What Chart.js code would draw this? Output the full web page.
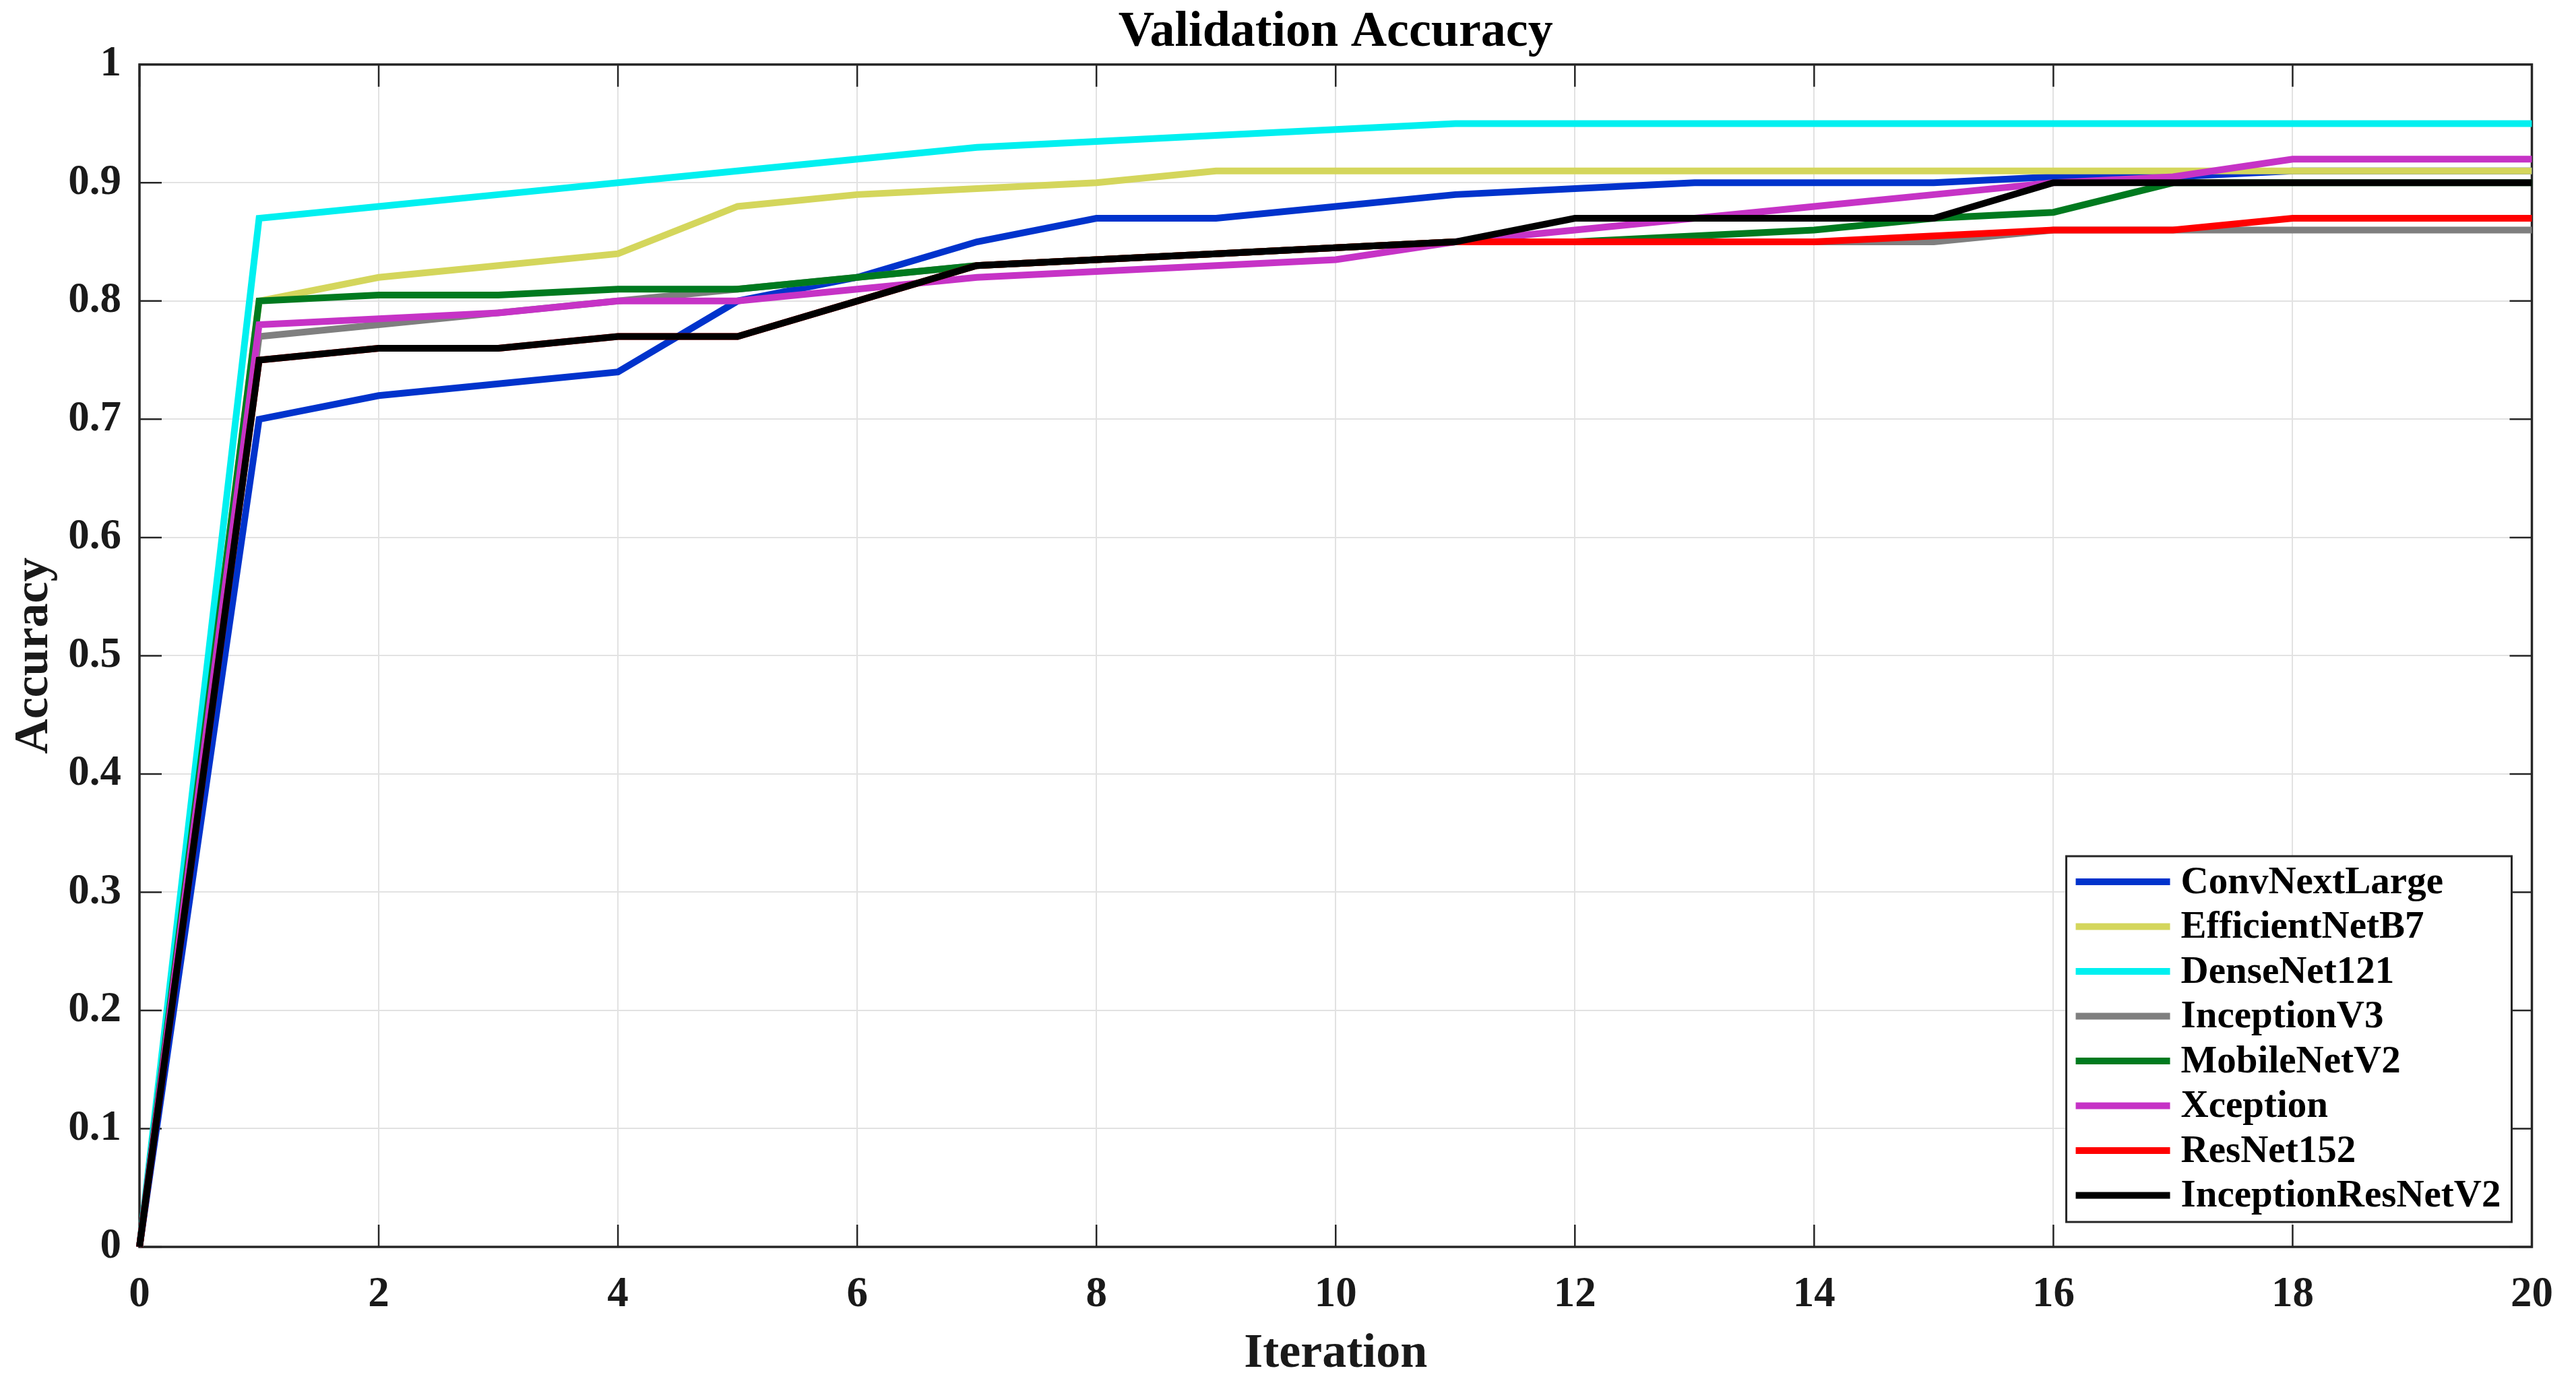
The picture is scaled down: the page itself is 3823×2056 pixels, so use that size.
<!DOCTYPE html>
<html>
<head>
<meta charset="utf-8">
<title>Validation Accuracy</title>
<script src="https://cdn.jsdelivr.net/npm/chart.js@4.4.1/dist/chart.umd.min.js"></script>
<style>
    html, body { margin: 0; padding: 0; background: #ffffff; }
    #chart { display: block; }
</style>
</head>
<body>
<canvas id="chart" width="3823" height="2056"></canvas>
<script>
// iterations on the x axis
const iterations = [0, 1, 2, 3, 4, 5, 6, 7, 8, 9, 10, 11, 12, 13, 14, 15, 16, 17, 18, 19, 20];

const modelNames = ['ConvNextLarge', 'EfficientNetB7', 'DenseNet121', 'InceptionV3',
                    'MobileNetV2', 'Xception', 'ResNet152', 'InceptionResNetV2'];

// validation accuracy per model
const convNextLarge     = [0, 0.70, 0.72, 0.73, 0.74, 0.80, 0.82, 0.85, 0.87, 0.87, 0.88, 0.89, 0.895, 0.90, 0.90, 0.90, 0.905, 0.905, 0.91, 0.91, 0.91];
const efficientNetB7    = [0, 0.80, 0.82, 0.83, 0.84, 0.88, 0.89, 0.895, 0.90, 0.91, 0.91, 0.91, 0.91, 0.91, 0.91, 0.91, 0.91, 0.91, 0.91, 0.91, 0.91];
const denseNet121       = [0, 0.87, 0.88, 0.89, 0.90, 0.91, 0.92, 0.93, 0.935, 0.94, 0.945, 0.95, 0.95, 0.95, 0.95, 0.95, 0.95, 0.95, 0.95, 0.95, 0.95];
const inceptionV3       = [0, 0.77, 0.78, 0.79, 0.80, 0.81, 0.82, 0.83, 0.835, 0.84, 0.845, 0.85, 0.85, 0.85, 0.85, 0.85, 0.86, 0.86, 0.86, 0.86, 0.86];
const mobileNetV2       = [0, 0.80, 0.805, 0.805, 0.81, 0.81, 0.82, 0.83, 0.835, 0.84, 0.845, 0.85, 0.85, 0.855, 0.86, 0.87, 0.875, 0.90, 0.90, 0.90, 0.90];
const xception          = [0, 0.78, 0.785, 0.79, 0.80, 0.80, 0.81, 0.82, 0.825, 0.83, 0.835, 0.85, 0.86, 0.87, 0.88, 0.89, 0.90, 0.905, 0.92, 0.92, 0.92];
const resNet152         = [0, 0.75, 0.76, 0.76, 0.77, 0.77, 0.80, 0.83, 0.835, 0.84, 0.845, 0.85, 0.85, 0.85, 0.85, 0.855, 0.86, 0.86, 0.87, 0.87, 0.87];
const inceptionResNetV2 = [0, 0.75, 0.76, 0.76, 0.77, 0.77, 0.80, 0.83, 0.835, 0.84, 0.845, 0.85, 0.87, 0.87, 0.87, 0.87, 0.90, 0.90, 0.90, 0.90, 0.90];

const seriesValues = [convNextLarge, efficientNetB7, denseNet121, inceptionV3,
                      mobileNetV2, xception, resNet152, inceptionResNetV2];
const seriesColors = ['#0033cc', '#d4d65c', '#00f0f0', '#7f7f7f',
                      '#007a1f', '#c633c6', '#ff0000', '#000000'];

const xTicks = [0, 2, 4, 6, 8, 10, 12, 14, 16, 18, 20];
const yTicks = [0, 0.1, 0.2, 0.3, 0.4, 0.5, 0.6, 0.7, 0.8, 0.9, 1];

const FONT = '"Liberation Serif", "Times New Roman", serif';
const TEXT_COLOR = '#1a1a1a';
const TICK_LEN = 33;

// MATLAB style box with inward ticks on all four sides
const matlabAxes = {
    id: 'matlabAxes',
    beforeDatasetsDraw(chart) {
        const { ctx, chartArea: a, scales: { x, y } } = chart;
        ctx.save();
        ctx.strokeStyle = '#262626';
        ctx.lineWidth = 2.5;
        ctx.beginPath();
        x.ticks.forEach(t => {
            const px = x.getPixelForValue(t.value);
            ctx.moveTo(px, a.bottom); ctx.lineTo(px, a.bottom - TICK_LEN);
            ctx.moveTo(px, a.top); ctx.lineTo(px, a.top + TICK_LEN);
        });
        y.ticks.forEach(t => {
            const py = y.getPixelForValue(t.value);
            ctx.moveTo(a.left, py); ctx.lineTo(a.left + TICK_LEN, py);
            ctx.moveTo(a.right, py); ctx.lineTo(a.right - TICK_LEN, py);
        });
        ctx.stroke();
        ctx.lineWidth = 3.5;
        ctx.strokeRect(a.left, a.top, a.right - a.left, a.bottom - a.top);
        ctx.restore();
    }
};

// boxed legend in the lower right corner of the plot
const boxLegend = {
    id: 'boxLegend',
    afterDraw(chart) {
        const { ctx, chartArea: a } = chart;
        const sets = chart.data.datasets;
        const rowH = 66.5;
        ctx.save();
        ctx.font = `bold 57px ${FONT}`;
        const textW = Math.max(...sets.map(d => ctx.measureText(d.label).width));
        const w = 170 + textW + 16;
        const h = sets.length * rowH + 11;
        const right = a.right - 30;
        const bottom = a.bottom - 37;
        const left = right - w;
        const top = bottom - h;

        ctx.fillStyle = '#ffffff';
        ctx.fillRect(left, top, w, h);
        ctx.strokeStyle = '#262626';
        ctx.lineWidth = 3;
        ctx.strokeRect(left, top, w, h);

        ctx.textAlign = 'left';
        ctx.textBaseline = 'middle';
        sets.forEach((d, i) => {
            const cy = top + 38 + i * rowH;
            ctx.strokeStyle = d.borderColor;
            ctx.lineWidth = 10;
            ctx.beginPath();
            ctx.moveTo(left + 14, cy);
            ctx.lineTo(left + 154, cy);
            ctx.stroke();
            ctx.fillStyle = '#000000';
            ctx.fillText(d.label, left + 170, cy + 2);
        });
        ctx.restore();
    }
};

// later series are drawn on top, as in the original figure
const datasets = modelNames.map((name, i) => ({
    label: name,
    data: iterations.map((it, k) => ({ x: it, y: seriesValues[i][k] })),
    borderColor: seriesColors[i],
    backgroundColor: seriesColors[i],
    borderWidth: 10,
    pointRadius: 0,
    tension: 0,
    clip: false,
    order: modelNames.length - i
}));

const ctx = document.getElementById('chart').getContext('2d');
new Chart(ctx, {
    type: 'line',
    data: { datasets: datasets },
    options: {
        responsive: false,
        devicePixelRatio: 1,
        animation: false,
        layout: { padding: { left: 0, right: 46, top: 0, bottom: 0 } },
        plugins: {
            legend: { display: false },
            tooltip: { enabled: false },
            title: {
                display: true,
                fullSize: false,
                text: 'Validation Accuracy',
                color: '#000000',
                font: { family: FONT, size: 74, weight: 'bold' },
                padding: { top: 4, bottom: 3 }
            }
        },
        scales: {
            x: {
                type: 'linear',
                min: 0,
                max: 20,
                afterFit(scale) { scale.height = 205; },
                afterBuildTicks(scale) { scale.ticks = xTicks.map(v => ({ value: v })); },
                grid: { color: '#e2e2e2', lineWidth: 2, drawTicks: false },
                border: { display: false },
                ticks: {
                    color: TEXT_COLOR,
                    font: { family: FONT, size: 63, weight: 'bold' },
                    padding: 34,
                    maxRotation: 0,
                    callback: v => String(v)
                },
                title: {
                    display: true,
                    text: 'Iteration',
                    color: TEXT_COLOR,
                    font: { family: FONT, size: 72, weight: 'bold' },
                    padding: { top: 0, bottom: 2 }
                }
            },
            y: {
                min: 0,
                max: 1,
                afterFit(scale) { scale.width = 207; },
                afterBuildTicks(scale) { scale.ticks = yTicks.map(v => ({ value: v })); },
                grid: { color: '#e2e2e2', lineWidth: 2, drawTicks: false },
                border: { display: false },
                ticks: {
                    color: TEXT_COLOR,
                    font: { family: FONT, size: 63, weight: 'bold' },
                    padding: 27,
                    callback: v => String(+v.toFixed(1))
                },
                title: {
                    display: true,
                    text: 'Accuracy',
                    color: TEXT_COLOR,
                    font: { family: FONT, size: 72, weight: 'bold' },
                    padding: { top: 8, bottom: 0 }
                }
            }
        }
    },
    plugins: [matlabAxes, boxLegend]
});
</script>
</body>
</html>
